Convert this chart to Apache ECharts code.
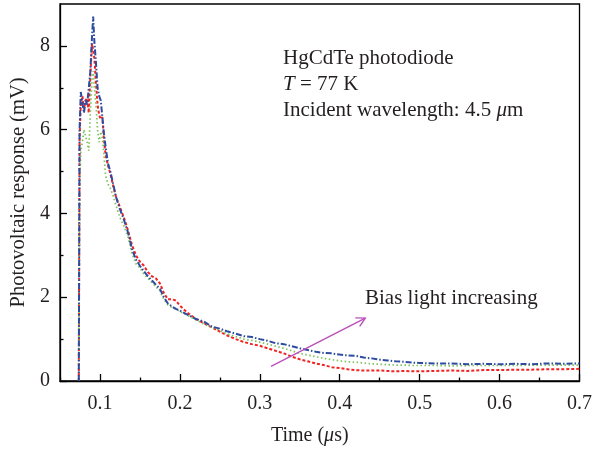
<!DOCTYPE html>
<html>
<head>
<meta charset="utf-8">
<script src="https://cdn.jsdelivr.net/npm/echarts@6/dist/echarts.min.js"></script>
<style>
html,body{margin:0;padding:0;background:#fff;}
#chart{width:595px;height:451px;}
</style>
</head>
<body>
<div id="chart"></div>
<script>
// ---- data ----
var times = [0.0735,0.0745,0.076,0.078,0.080,0.082,0.084,0.086,0.088,0.090,0.0915,0.093,0.095,0.097,0.099,0.101,0.103,0.105,0.107,0.110,0.113,0.116,0.120,0.125,0.130,0.135,0.140,0.145,0.150,0.155,0.160,0.165,0.170,0.175,0.180,0.185,0.190,0.195,0.200,0.210,0.220,0.230,0.240,0.250,0.260,0.270,0.280,0.290,0.300,0.310,0.320,0.330,0.340,0.350,0.360,0.370,0.380,0.390,0.400,0.410,0.420,0.430,0.440,0.450,0.460,0.470,0.480,0.490,0.500,0.520,0.540,0.560,0.580,0.600,0.620,0.640,0.660,0.680,0.700];

var blueValues = [0,6.0,6.9,6.9,6.4,6.7,6.6,7.0,7.4,8.2,8.7,8.1,7.6,7.0,6.8,6.7,6.3,5.9,5.6,5.2,5.0,4.75,4.4,4.1,3.85,3.55,3.15,2.9,2.75,2.62,2.5,2.4,2.3,2.2,2.0,1.85,1.78,1.72,1.68,1.58,1.48,1.42,1.30,1.25,1.18,1.13,1.07,1.05,1.0,0.96,0.90,0.88,0.83,0.78,0.74,0.70,0.67,0.66,0.63,0.61,0.60,0.56,0.54,0.51,0.49,0.47,0.46,0.44,0.43,0.42,0.42,0.40,0.41,0.40,0.41,0.40,0.42,0.41,0.42];

var redValues = [0,5.8,6.6,6.8,6.5,6.7,6.75,6.4,7.3,8.05,7.9,7.7,7.1,6.6,6.35,6.25,6.3,5.75,5.4,5.15,4.95,4.7,4.4,4.15,3.9,3.6,3.25,3.0,2.85,2.75,2.6,2.5,2.45,2.33,2.1,1.95,1.95,1.92,1.8,1.62,1.48,1.38,1.28,1.18,1.08,1.0,0.93,0.88,0.84,0.78,0.72,0.66,0.58,0.52,0.47,0.42,0.38,0.33,0.31,0.28,0.26,0.25,0.25,0.25,0.24,0.23,0.24,0.23,0.23,0.24,0.25,0.24,0.26,0.26,0.27,0.27,0.28,0.28,0.29];

var greenValues = [0,4.5,5.5,5.7,6.0,6.0,5.7,5.5,6.4,7.2,7.4,7.0,6.6,6.0,5.7,5.95,5.8,5.4,4.9,4.7,4.6,4.45,4.2,3.9,3.7,3.45,3.05,2.8,2.7,2.55,2.45,2.35,2.25,2.15,1.95,1.82,1.76,1.72,1.66,1.56,1.46,1.36,1.28,1.2,1.12,1.06,1.0,0.97,0.93,0.88,0.83,0.78,0.72,0.66,0.62,0.58,0.54,0.51,0.48,0.46,0.45,0.43,0.41,0.40,0.39,0.38,0.38,0.37,0.37,0.37,0.36,0.37,0.37,0.37,0.37,0.38,0.38,0.38,0.38];

var xMajorTicks = [0.1,0.2,0.3,0.4,0.5,0.6,0.7];
var xMinorTicks = [0.05,0.15,0.25,0.35,0.45,0.55,0.65];
var yMajorTicks = [0,2,4,6,8];
var yMinorTicks = [1,3,5,7];

var arrowFrom = [0.314, 0.35];
var arrowTo = [0.432, 1.5];

function pairs(vals){ return times.map(function(t,i){ return [t, vals[i]]; }); }

var FONT = 'Liberation Serif';
var TXT = '#231f20';
var chart = echarts.init(document.getElementById('chart'), null, {renderer:'canvas'});

var axisCommon = {
  axisLine:{show:true, lineStyle:{color:'#000', width:1.3}},
  splitLine:{show:false}
};

var option = {
  animation:false,
  backgroundColor:'#fff',
  grid:{left:58, right:9, top:4, bottom:68, show:true, borderColor:'#000', borderWidth:1.3, backgroundColor:'transparent'},
  xAxis:[
    Object.assign({}, axisCommon, {
      type:'value', min:0.05, max:0.7, position:'bottom',
      name:'Time ({i|μ}s)', nameLocation:'middle', nameGap:45,
      nameTextStyle:{fontFamily:FONT, fontSize:20, color:TXT, padding:[0,20,0,0],
        rich:{i:{fontFamily:FONT, fontSize:20, fontStyle:'italic', color:TXT}}},
      axisTick:{show:true, inside:true, length:7, lineStyle:{color:'#000', width:1.3}, customValues:xMajorTicks},
      axisLabel:{show:true, margin:13, fontFamily:FONT, fontSize:20, color:TXT, customValues:xMajorTicks,
        formatter:function(v){ return (Math.round(v*10)/10).toFixed(1); }}
    }),
    {
      type:'value', min:0.05, max:0.7, position:'bottom', offset:0,
      axisLine:{show:false}, splitLine:{show:false}, axisLabel:{show:false},
      axisTick:{show:true, inside:true, length:3.5, lineStyle:{color:'#000', width:1.3}, customValues:xMinorTicks}
    }
  ],
  yAxis:[
    Object.assign({}, axisCommon, {
      type:'value', min:0, max:9, position:'left',
      name:'Photovoltaic response (mV)', nameLocation:'middle', nameGap:31,
      nameTextStyle:{fontFamily:FONT, fontSize:20.5, color:TXT},
      axisTick:{show:true, inside:true, length:7, lineStyle:{color:'#000', width:1.3}, customValues:yMajorTicks},
      axisLabel:{show:true, margin:10, fontFamily:FONT, fontSize:20, color:TXT, customValues:yMajorTicks}
    }),
    {
      type:'value', min:0, max:9, position:'left', offset:0,
      axisLine:{show:false}, splitLine:{show:false}, axisLabel:{show:false},
      axisTick:{show:true, inside:true, length:3.5, lineStyle:{color:'#000', width:1.3}, customValues:yMinorTicks}
    }
  ],
  series:[
    {type:'line', name:'low', data:pairs(redValues), showSymbol:false, symbol:'none',
      lineStyle:{color:'#f22222', width:2, type:[3,2]}, z:3},
    {type:'line', name:'mid', data:pairs(greenValues), showSymbol:false, symbol:'none',
      lineStyle:{color:'#7cc25a', width:1.7, type:[1.5,2.5]}, z:4},
    {type:'line', name:'high', data:pairs(blueValues), showSymbol:false, symbol:'none',
      lineStyle:{color:'#2d4b9f', width:2, type:[6,2,1.5,2]}, z:5}
  ]
};
chart.setOption(option);

// annotations
var p0 = chart.convertToPixel({gridIndex:0}, arrowFrom);
var p1 = chart.convertToPixel({gridIndex:0}, arrowTo);
var ang = Math.atan2(p1[1]-p0[1], p1[0]-p0[0]);
var L = 10, A = 0.5;
var h1 = [p1[0]-L*Math.cos(ang-A), p1[1]-L*Math.sin(ang-A)];
var h2 = [p1[0]-L*Math.cos(ang+A), p1[1]-L*Math.sin(ang+A)];
var MAG = '#bb4fbb';
var AF = '21px "Liberation Serif"';

chart.setOption({
  graphic:[
    {type:'line', shape:{x1:p0[0], y1:p0[1], x2:p1[0], y2:p1[1]}, style:{stroke:MAG, lineWidth:1.4}, z:10},
    {type:'polyline', shape:{points:[h1, p1, h2]}, style:{stroke:MAG, lineWidth:1.4, fill:null}, z:10},
    {type:'text', left:283, top:48, style:{text:'HgCdTe photodiode', font:AF, fill:TXT}},
    {type:'text', left:283, top:74, style:{text:'{i|T} = 77 K', font:AF, fill:TXT,
      rich:{i:{fontStyle:'italic', fontFamily:FONT, fontSize:21, fill:TXT}}}},
    {type:'text', left:283, top:100, style:{text:'Incident wavelength: 4.5 {i|μ}m', font:AF, fill:TXT,
      rich:{i:{fontStyle:'italic', fontFamily:FONT, fontSize:21, fill:TXT}}}},
    {type:'text', left:365, top:288, style:{text:'Bias light increasing', font:AF, fill:TXT}}
  ]
});
</script>
</body>
</html>
